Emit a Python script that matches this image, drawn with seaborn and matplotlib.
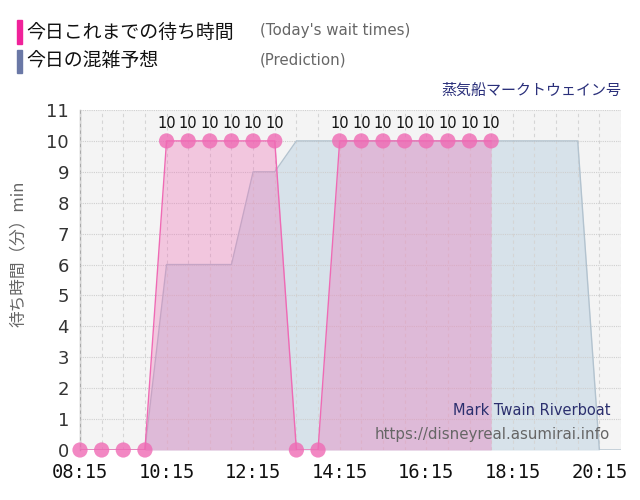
import numpy as np
import pandas as pd
import matplotlib
matplotlib.use("Agg")
import matplotlib.pyplot as plt
import matplotlib.patches as mpatches
import seaborn as sns

# %% Datos

horas_real = ["08:15", "08:45", "09:15", "09:45", "10:15", "10:45", "11:15", "11:45",
              "12:15", "12:45", "13:15", "13:45", "14:15", "14:45", "15:15", "15:45",
              "16:15", "16:45", "17:15", "17:45"]
espera_real = [0, 0, 0, 0, 10, 10, 10, 10, 10, 10, 0, 0, 10, 10, 10, 10, 10, 10, 10, 10]

horas_pred = ["08:15", "08:45", "09:15", "09:45", "10:15", "10:45", "11:15", "11:45",
              "12:15", "12:45", "13:15", "13:45", "14:15", "14:45", "15:15", "15:45",
              "16:15", "16:45", "17:15", "17:45", "18:15", "18:45", "19:15", "19:45",
              "20:15", "20:45"]
espera_pred = [0, 0, 0, 0, 6, 6, 6, 6, 9, 9, 10, 10, 10, 10, 10, 10, 10, 10, 10, 10,
               10, 10, 10, 10, 0, 0]

etiquetas_x = ["08:15", "10:15", "12:15", "14:15", "16:15", "18:15", "20:15"]
etiquetas_y = list(range(0, 12))


def a_minutos(h):
    hh, mm = h.split(":")
    return int(hh) * 60 + int(mm)


real = pd.DataFrame({"min": [a_minutos(h) for h in horas_real], "espera": espera_real})
pred = pd.DataFrame({"min": [a_minutos(h) for h in horas_pred], "espera": espera_pred})

# %% Estilo

sns.set_style("white")
plt.rcParams["font.family"] = ["Noto Sans CJK JP", "DejaVu Sans"]

ROSA = "#ef6ab4"
AZUL_RELLENO = "#d7e2ea"
AZUL_BORDE = "#b3c3cf"

fig = plt.figure(figsize=(6.4, 5), dpi=100)
ax = fig.add_axes([80 / 640, 1 - 450 / 500, 541 / 640, 340 / 500])
ax.set_facecolor("#f4f4f4")

# prediccion
ax.fill_between(pred["min"], pred["espera"], 0, color=AZUL_RELLENO, lw=0, zorder=2)
sns.lineplot(data=pred, x="min", y="espera", color=AZUL_BORDE, lw=1, ax=ax, zorder=3)

# tiempos reales
ax.fill_between(real["min"], real["espera"], 0, color=ROSA, alpha=0.33, lw=0, zorder=4)
sns.lineplot(data=real, x="min", y="espera", color=ROSA, lw=1, ax=ax, zorder=5)
sns.scatterplot(data=real, x="min", y="espera", color=ROSA, s=120, alpha=0.8,
                edgecolor="none", ax=ax, zorder=6, clip_on=False)

for m, v in zip(real["min"], real["espera"]):
    if v > 0:
        ax.annotate(str(v), (m, v), xytext=(0, 12.5), textcoords="offset points",
                    ha="center", va="center", fontsize=10.5, color="#111111",
                    family="DejaVu Sans", zorder=7)

# ejes
ax.set_xlim(a_minutos("08:15"), a_minutos("20:45"))
ax.set_ylim(0, 11)
ax.set_xticks([a_minutos(h) for h in etiquetas_x])
ax.set_xticklabels(etiquetas_x, family="DejaVu Sans Mono", fontsize=13.5, color="#111111")
ax.set_xticks(np.arange(a_minutos("08:15"), a_minutos("20:45") + 1, 30), minor=True)
ax.set_yticks(etiquetas_y)
ax.set_yticklabels([str(v) for v in etiquetas_y], family="DejaVu Sans", fontsize=13, color="#333333")
ax.tick_params(axis="x", which="major", length=7, color="#cccccc", pad=2)
ax.tick_params(axis="x", which="minor", length=0)
ax.tick_params(axis="y", length=0, pad=8)
ax.set_xlabel("")
ax.set_ylabel("")

ax.grid(axis="x", which="both", color="#d5d5d5", ls=(0, (3, 3)), lw=0.8, zorder=1)
ax.grid(axis="y", color="#cfcfcf", ls=(0, (1, 1)), lw=0.8, zorder=1)
ax.set_axisbelow(False)
for lado in ["top", "right", "bottom"]:
    ax.spines[lado].set_visible(False)
ax.spines["left"].set_color("#aaaaaa")
ax.spines["left"].set_linewidth(1)

# textos
fig.text(18 / 640, 1 - 254 / 500, "待ち時間（分）min", rotation=90, ha="center", va="center",
         fontsize=12, color="#666666")

fig.patches.append(mpatches.Rectangle((17 / 640, 1 - 44 / 500), 5 / 640, 24 / 500,
                                      color="#f0229a", transform=fig.transFigure))
fig.patches.append(mpatches.Rectangle((17 / 640, 1 - 73 / 500), 5 / 640, 23 / 500,
                                      color="#6a78a6", transform=fig.transFigure))
fig.text(26 / 640, 1 - 32 / 500, "今日これまでの待ち時間", ha="left", va="center",
         fontsize=13.6, color="#111111")
fig.text(26 / 640, 1 - 61 / 500, "今日の混雑予想", ha="left", va="center",
         fontsize=13.6, color="#111111")
fig.text(260 / 640, 1 - 31 / 500, "(Today's wait times)", ha="left", va="center",
         fontsize=10.8, color="#666666", family="DejaVu Sans")
fig.text(260 / 640, 1 - 60 / 500, "(Prediction)", ha="left", va="center",
         fontsize=10.8, color="#666666", family="DejaVu Sans")
fig.text(621 / 640, 1 - 91 / 500, "蒸気船マークトウェイン号", ha="right", va="center",
         fontsize=10.8, color="#2a2f7a")

ax.text(0.98, 0.115, "Mark Twain Riverboat", transform=ax.transAxes, ha="right",
        va="center", fontsize=10.5, color="#2b2f6e", family="DejaVu Sans", zorder=8)
ax.text(0.98, 0.045, "https://disneyreal.asumirai.info", transform=ax.transAxes, ha="right",
        va="center", fontsize=10.8, color="#666666", family="DejaVu Sans", zorder=8)

plt.savefig("out.png", dpi=100)
